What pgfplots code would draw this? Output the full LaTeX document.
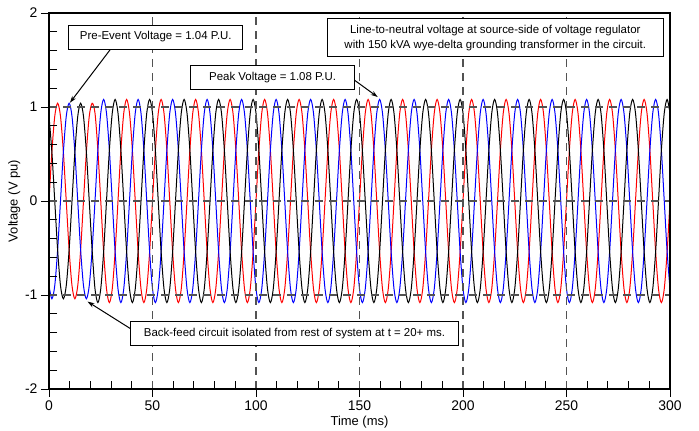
\documentclass[border=0pt]{standalone}
\usepackage{fontspec}
\setmainfont{Liberation Sans}
\usepackage{pgfplots}
\usepackage{pgfplotstable}
\usetikzlibrary{arrows.meta}
\pgfplotsset{compat=1.18}

% three phase voltages (pu), sampled every 30 degrees of a 60 Hz cycle
\pgfplotstableread{
t r b k
0.000 0 -0.901 0.901
1.389 0.52 -1.04 0.52
2.778 0.901 -0.901 0
4.167 1.04 -0.52 -0.52
5.556 0.901 0 -0.901
6.944 0.52 0.52 -1.04
8.333 0 0.901 -0.901
9.722 -0.52 1.04 -0.52
11.111 -0.901 0.901 0
12.500 -1.04 0.52 0.52
13.889 -0.901 0 0.901
15.278 -0.52 -0.52 1.04
16.667 0 -0.901 0.901
18.056 0.52 -1.04 0.52
19.444 0.901 -0.901 0
20.833 1.04 -0.52 -0.52
22.222 0.935 0 -0.935
23.611 0.54 0.54 -1.08
25.000 0 0.935 -0.935
26.389 -0.54 1.08 -0.54
27.778 -0.935 0.935 0
29.167 -1.08 0.54 0.54
30.556 -0.935 0 0.935
31.944 -0.54 -0.54 1.08
33.333 0 -0.935 0.935
34.722 0.54 -1.08 0.54
36.111 0.935 -0.935 0
37.500 1.08 -0.54 -0.54
38.889 0.935 0 -0.935
40.278 0.54 0.54 -1.08
41.667 0 0.935 -0.935
43.056 -0.54 1.08 -0.54
44.444 -0.935 0.935 0
45.833 -1.08 0.54 0.54
47.222 -0.935 0 0.935
48.611 -0.54 -0.54 1.08
50.000 0 -0.935 0.935
51.389 0.54 -1.08 0.54
52.778 0.935 -0.935 0
54.167 1.08 -0.54 -0.54
55.556 0.935 0 -0.935
56.944 0.54 0.54 -1.08
58.333 0 0.935 -0.935
59.722 -0.54 1.08 -0.54
61.111 -0.935 0.935 0
62.500 -1.08 0.54 0.54
63.889 -0.935 0 0.935
65.278 -0.54 -0.54 1.08
66.667 0 -0.935 0.935
68.056 0.54 -1.08 0.54
69.444 0.935 -0.935 0
70.833 1.08 -0.54 -0.54
72.222 0.935 0 -0.935
73.611 0.54 0.54 -1.08
75.000 0 0.935 -0.935
76.389 -0.54 1.08 -0.54
77.778 -0.935 0.935 0
79.167 -1.08 0.54 0.54
80.556 -0.935 0 0.935
81.944 -0.54 -0.54 1.08
83.333 0 -0.935 0.935
84.722 0.54 -1.08 0.54
86.111 0.935 -0.935 0
87.500 1.08 -0.54 -0.54
88.889 0.935 0 -0.935
90.278 0.54 0.54 -1.08
91.667 0 0.935 -0.935
93.056 -0.54 1.08 -0.54
94.444 -0.935 0.935 0
95.833 -1.08 0.54 0.54
97.222 -0.935 0 0.935
98.611 -0.54 -0.54 1.08
100.000 0 -0.935 0.935
101.389 0.54 -1.08 0.54
102.778 0.935 -0.935 0
104.167 1.08 -0.54 -0.54
105.556 0.935 0 -0.935
106.944 0.54 0.54 -1.08
108.333 0 0.935 -0.935
109.722 -0.54 1.08 -0.54
111.111 -0.935 0.935 0
112.500 -1.08 0.54 0.54
113.889 -0.935 0 0.935
115.278 -0.54 -0.54 1.08
116.667 0 -0.935 0.935
118.056 0.54 -1.08 0.54
119.444 0.935 -0.935 0
120.833 1.08 -0.54 -0.54
122.222 0.935 0 -0.935
123.611 0.54 0.54 -1.08
125.000 0 0.935 -0.935
126.389 -0.54 1.08 -0.54
127.778 -0.935 0.935 0
129.167 -1.08 0.54 0.54
130.556 -0.935 0 0.935
131.944 -0.54 -0.54 1.08
133.333 0 -0.935 0.935
134.722 0.54 -1.08 0.54
136.111 0.935 -0.935 0
137.500 1.08 -0.54 -0.54
138.889 0.935 0 -0.935
140.278 0.54 0.54 -1.08
141.667 0 0.935 -0.935
143.056 -0.54 1.08 -0.54
144.444 -0.935 0.935 0
145.833 -1.08 0.54 0.54
147.222 -0.935 0 0.935
148.611 -0.54 -0.54 1.08
150.000 0 -0.935 0.935
151.389 0.54 -1.08 0.54
152.778 0.935 -0.935 0
154.167 1.08 -0.54 -0.54
155.556 0.935 0 -0.935
156.944 0.54 0.54 -1.08
158.333 0 0.935 -0.935
159.722 -0.54 1.08 -0.54
161.111 -0.935 0.935 0
162.500 -1.08 0.54 0.54
163.889 -0.935 0 0.935
165.278 -0.54 -0.54 1.08
166.667 0 -0.935 0.935
168.056 0.54 -1.08 0.54
169.444 0.935 -0.935 0
170.833 1.08 -0.54 -0.54
172.222 0.935 0 -0.935
173.611 0.54 0.54 -1.08
175.000 0 0.935 -0.935
176.389 -0.54 1.08 -0.54
177.778 -0.935 0.935 0
179.167 -1.08 0.54 0.54
180.556 -0.935 0 0.935
181.944 -0.54 -0.54 1.08
183.333 0 -0.935 0.935
184.722 0.54 -1.08 0.54
186.111 0.935 -0.935 0
187.500 1.08 -0.54 -0.54
188.889 0.935 0 -0.935
190.278 0.54 0.54 -1.08
191.667 0 0.935 -0.935
193.056 -0.54 1.08 -0.54
194.444 -0.935 0.935 0
195.833 -1.08 0.54 0.54
197.222 -0.935 0 0.935
198.611 -0.54 -0.54 1.08
200.000 0 -0.935 0.935
201.389 0.54 -1.08 0.54
202.778 0.935 -0.935 0
204.167 1.08 -0.54 -0.54
205.556 0.935 0 -0.935
206.944 0.54 0.54 -1.08
208.333 0 0.935 -0.935
209.722 -0.54 1.08 -0.54
211.111 -0.935 0.935 0
212.500 -1.08 0.54 0.54
213.889 -0.935 0 0.935
215.278 -0.54 -0.54 1.08
216.667 0 -0.935 0.935
218.056 0.54 -1.08 0.54
219.444 0.935 -0.935 0
220.833 1.08 -0.54 -0.54
222.222 0.935 0 -0.935
223.611 0.54 0.54 -1.08
225.000 0 0.935 -0.935
226.389 -0.54 1.08 -0.54
227.778 -0.935 0.935 0
229.167 -1.08 0.54 0.54
230.556 -0.935 0 0.935
231.944 -0.54 -0.54 1.08
233.333 0 -0.935 0.935
234.722 0.54 -1.08 0.54
236.111 0.935 -0.935 0
237.500 1.08 -0.54 -0.54
238.889 0.935 0 -0.935
240.278 0.54 0.54 -1.08
241.667 0 0.935 -0.935
243.056 -0.54 1.08 -0.54
244.444 -0.935 0.935 0
245.833 -1.08 0.54 0.54
247.222 -0.935 0 0.935
248.611 -0.54 -0.54 1.08
250.000 0 -0.935 0.935
251.389 0.54 -1.08 0.54
252.778 0.935 -0.935 0
254.167 1.08 -0.54 -0.54
255.556 0.935 0 -0.935
256.944 0.54 0.54 -1.08
258.333 0 0.935 -0.935
259.722 -0.54 1.08 -0.54
261.111 -0.935 0.935 0
262.500 -1.08 0.54 0.54
263.889 -0.935 0 0.935
265.278 -0.54 -0.54 1.08
266.667 0 -0.935 0.935
268.056 0.54 -1.08 0.54
269.444 0.935 -0.935 0
270.833 1.08 -0.54 -0.54
272.222 0.935 0 -0.935
273.611 0.54 0.54 -1.08
275.000 0 0.935 -0.935
276.389 -0.54 1.08 -0.54
277.778 -0.935 0.935 0
279.167 -1.08 0.54 0.54
280.556 -0.935 0 0.935
281.944 -0.54 -0.54 1.08
283.333 0 -0.935 0.935
284.722 0.54 -1.08 0.54
286.111 0.935 -0.935 0
287.500 1.08 -0.54 -0.54
288.889 0.935 0 -0.935
290.278 0.54 0.54 -1.08
291.667 0 0.935 -0.935
293.056 -0.54 1.08 -0.54
294.444 -0.935 0.935 0
295.833 -1.08 0.54 0.54
297.222 -0.935 0 0.935
298.611 -0.54 -0.54 1.08
300.000 0 -0.935 0.935
}\volts

\begin{document}
\begin{tikzpicture}
\begin{axis}[
  scale only axis,
  width=621bp, height=376bp,
  xmin=0, xmax=300, ymin=-2, ymax=2,
  xtick={0,50,...,300},
  ytick={-2,-1,0,1,2},
  minor x tick num=4,
  minor y tick num=4,
  xtick pos=left, ytick pos=left,
  tick align=outside,
  major tick length=8bp,
  minor tick length=-8bp,
  tick style={black, line width=0.9bp},
  axis line style={line width=1.3bp},
  grid=major,
  major grid style={black!68, line width=1.4bp, dash pattern=on 8bp off 6bp},
  axis on top,
  /pgf/number format/assume math mode=true,
  ticklabel style={font=\fontsize{14}{16}\selectfont},
  xlabel={Time (ms)},
  ylabel={Voltage (V pu)},
  label style={font=\fontsize{13}{15}\selectfont},
  xlabel style={yshift=1bp},
  ylabel style={yshift=-2bp},
  clip=true,
]
\addplot[red, line width=1bp, smooth] table[x=t, y=r] {\volts};
\addplot[blue, line width=1bp, smooth] table[x=t, y=b] {\volts};
\addplot[black, line width=1bp, smooth] table[x=t, y=k] {\volts};

\coordinate (b1) at (axis cs:51.6,1.745);
\coordinate (a1s) at (axis cs:29.9,1.62);
\coordinate (a1e) at (axis cs:10.1,1.045);
\coordinate (b2) at (axis cs:108,1.317);
\coordinate (a2s) at (axis cs:147.6,1.285);
\coordinate (a2e) at (axis cs:158.8,1.106);
\coordinate (b3) at (axis cs:215.6,1.736);
\coordinate (b4) at (axis cs:118.6,-1.413);
\coordinate (a4s) at (axis cs:39.5,-1.36);
\coordinate (a4e) at (axis cs:18.6,-1.07);
\end{axis}

\tikzset{note/.style={draw=black, line width=0.9bp, fill=white,
  font=\fontsize{11.5}{14.5}\selectfont, inner sep=0pt, align=center},
  pointer/.style={black, line width=1bp, -{Stealth[length=7bp,width=4.5bp]}}}
\draw[pointer] (a1s) -- (a1e);
\draw[pointer] (a2s) -- (a2e);
\draw[pointer] (a4s) -- (a4e);
\node[note, minimum width=174bp, minimum height=24bp] at (b1) {Pre-Event Voltage = 1.04 P.U.};
\node[note, minimum width=164bp, minimum height=24bp] at (b2) {Peak Voltage = 1.08 P.U.};
\node[note, minimum width=336bp, minimum height=38bp] at (b3)
  {Line-to-neutral voltage at source-side of voltage regulator\\with 150 kVA wye-delta grounding transformer in the circuit.};
\node[note, minimum width=328bp, minimum height=24bp] at (b4) {Back-feed circuit isolated from rest of system at t = 20+ ms.};

\pgfresetboundingbox
\path[use as bounding box] (-49bp,-42bp) rectangle (650bp,389bp);
\end{tikzpicture}
\end{document}
